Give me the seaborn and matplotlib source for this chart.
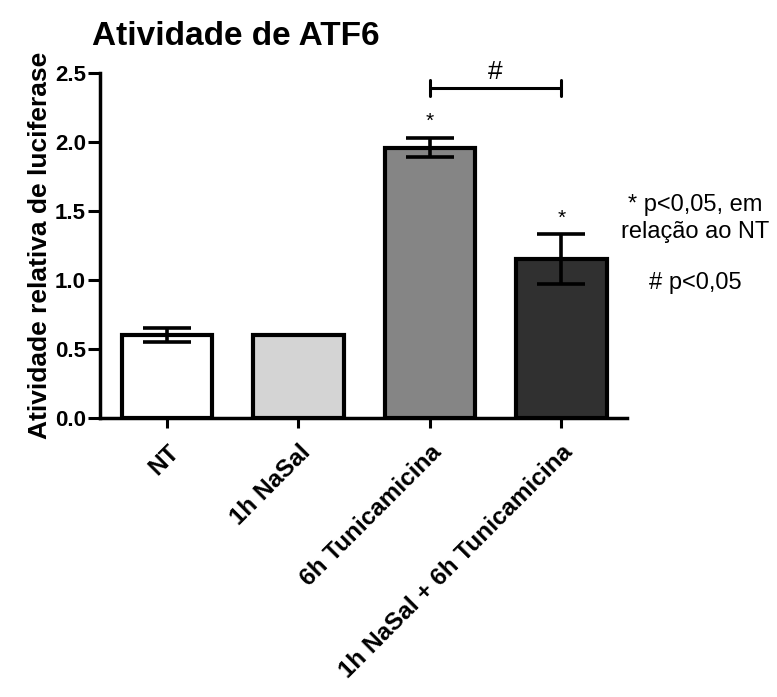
import matplotlib
matplotlib.use("Agg")
import matplotlib.pyplot as plt
import numpy as np
import pandas as pd
import seaborn as sns

categories = ["NT", "1h NaSal", "6h Tunicamicina", "1h NaSal + 6h Tunicamicina"]
means = [0.60, 0.60, 1.96, 1.15]
errors = [0.05, 0.0, 0.07, 0.18]
bar_colors = ["#FFFFFF", "#D4D4D4", "#858585", "#303030"]
yticks = [0.0, 0.5, 1.0, 1.5, 2.0, 2.5]

sns.set_theme(style="ticks")
plt.rcParams["font.family"] = ["Liberation Sans", "DejaVu Sans"]
plt.rcParams.update({"text.color": "black", "axes.labelcolor": "black",
                     "xtick.color": "black", "ytick.color": "black"})

df = pd.DataFrame({"grupo": categories, "atividade": means})

fig = plt.figure(figsize=(7.77, 6.97), dpi=100)
ax = fig.add_axes([100 / 777, 1 - 418 / 697, 527 / 777, 345 / 697])

sns.barplot(
    data=df, x="grupo", y="atividade", hue="grupo",
    palette=dict(zip(categories, bar_colors)), legend=False,
    width=0.69, edgecolor="black", linewidth=3, saturation=1, ax=ax,
)
pos = np.arange(len(categories))
ax.errorbar(pos, means, yerr=errors, fmt="none", ecolor="black",
            elinewidth=2.6, capsize=17, capthick=2.6, zorder=5)

ax.set_xlim(-0.51, 3.5)
ax.set_ylim(0, 2.5)
ax.set_yticks(yticks)
ax.set_yticklabels([f"{v:.1f}" for v in yticks], fontsize=16, fontweight="bold")
ax.set_xticks(pos)
ax.set_xticklabels(categories, rotation=45, ha="right", rotation_mode="anchor",
                   fontsize=17.5, fontweight="bold")
ax.tick_params(axis="both", width=2.2, length=7, color="black", direction="out")
ax.tick_params(axis="y", length=9, pad=1)
ax.tick_params(axis="x", pad=9)
for side in ["top", "right"]:
    ax.spines[side].set_visible(False)
for side in ["left", "bottom"]:
    ax.spines[side].set_linewidth(2.5)
    ax.spines[side].set_color("black")

ax.set_xlabel("")
ax.set_ylabel("Atividade relativa de luciferase", fontsize=19, fontweight="bold", labelpad=2)
ax.set_title("Atividade de ATF6", fontsize=24, fontweight="bold", loc="left",
             x=-0.015, pad=20)

# significance marks
ax.text(2, means[2] + errors[2] + 0.12, "*", ha="center", va="center", fontsize=15)
ax.text(3, means[3] + errors[3] + 0.12, "*", ha="center", va="center", fontsize=15)
br_y = 2.39
ax.plot([2, 3], [br_y, br_y], color="black", lw=2.2, clip_on=False)
ax.plot([2, 2], [br_y - 0.06, br_y + 0.06], color="black", lw=2.2, clip_on=False)
ax.plot([3, 3], [br_y - 0.06, br_y + 0.06], color="black", lw=2.2, clip_on=False)
ax.text(2.5, br_y + 0.03, "#", ha="center", va="bottom", fontsize=19, clip_on=False)

fig.text(695 / 777, 1 - 205 / 697, "* p<0,05, em", ha="center", va="center", fontsize=17)
fig.text(695 / 777, 1 - 232 / 697, "relação ao NT", ha="center", va="center", fontsize=17)
fig.text(695 / 777, 1 - 283 / 697, "# p<0,05", ha="center", va="center", fontsize=17)

fig.savefig("out.png", dpi=100, facecolor="white")
